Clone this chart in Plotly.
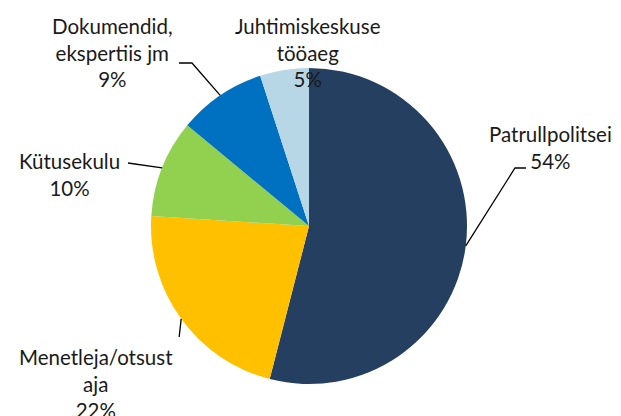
import numpy as np
import plotly.graph_objects as go

labels = ["Patrullpolitsei", "Menetleja/otsustaja", "Kütusekulu", "Dokumendid, ekspertiis jm", "Juhtimiskeskuse tööaeg"]
display = ["Patrullpolitsei<br>54%", "Menetleja/otsust<br>aja<br>22%", "Kütusekulu<br>10%",
           "Dokumendid,<br>ekspertiis jm<br>9%", "Juhtimiskeskuse<br>tööaeg<br>5%"]
values = [54, 22, 10, 9, 5]
colors = ["#253F60", "#FFC000", "#92D050", "#0070C0", "#B7D7E6"]

W, H = 621, 416
CX, CY, R = 309, 226, 158

def px(x, y):
    return x / W, 1 - y / H

fig = go.Figure(go.Pie(
    labels=labels, values=values, sort=False, direction="clockwise", rotation=0,
    marker=dict(colors=colors, line=dict(width=0)), textinfo="none", hoverinfo="label+percent",
    domain=dict(x=[(CX - R) / W, (CX + R) / W], y=[1 - (CY + R) / H, 1 - (CY - R) / H]),
    showlegend=False,
))

# anchor points on the arc at each slice's mid-angle
tot = sum(values)
cum = np.cumsum([0] + values)
mids = [(cum[i] + values[i] / 2) / tot * 2 * np.pi for i in range(len(values))]
anchors = [(CX + R * np.sin(a), CY - R * np.cos(a)) for a in mids]

# label text positions (pixels) and leader elbows
text_pos = [(550, 147), (96, 383), (69, 174), (112, 52), (308, 52)]
leaders = [
    [anchors[0], (515, 168), (526, 168)],
    [anchors[1], (anchors[1][0] - 2, 337)],
    [anchors[2], (128, 163)],
    [anchors[3], (192, 63), (179, 63)],
    None,
]

shapes = []
for pts in leaders:
    if not pts:
        continue
    path = ""
    for i, (x, y) in enumerate(pts):
        X, Y = px(x, y)
        path += ("M" if i == 0 else "L") + f"{X},{Y} "
    shapes.append(dict(type="path", xref="paper", yref="paper", path=path.strip(),
                       line=dict(color="black", width=1.3)))

annotations = []
for t, (x, y) in zip(display, text_pos):
    X, Y = px(x, y)
    annotations.append(dict(text=t, x=X, y=Y, xref="paper", yref="paper", showarrow=False,
                            xanchor="center", yanchor="middle", align="center",
                            font=dict(family="Lato", size=20.5, color="#1a1a1a")))

fig.update_layout(width=W, height=H, margin=dict(l=0, r=0, t=0, b=0),
                  paper_bgcolor="white", plot_bgcolor="white",
                  shapes=shapes, annotations=annotations)
fig.write_html("out.html", config={"displayModeBar": False},
               post_script="document.body.style.margin='0';")
